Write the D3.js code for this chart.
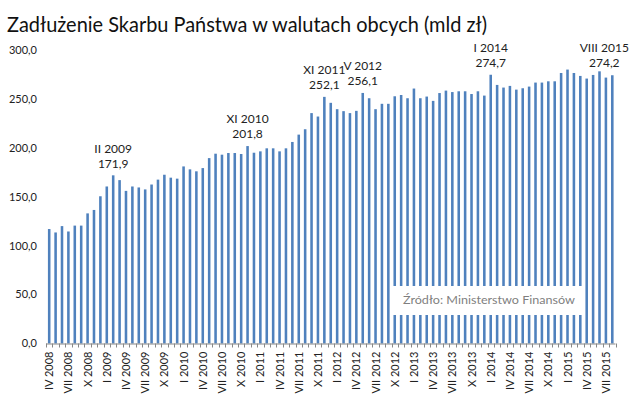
<!DOCTYPE html>
<html><head><meta charset="utf-8">
<script src="https://cdn.jsdelivr.net/npm/d3@7"></script>
<style>body{margin:0;background:#fff}svg{display:block}</style>
</head><body>
<script>
const romans = ["I","II","III","IV","V","VI","VII","VIII","IX","X","XI","XII"];
// months IV 2008 .. VIII 2015
const categories = [];
for (let y = 2008; y <= 2015; y++) for (let m = 0; m < 12; m++) {
  if ((y === 2008 && m < 3) || (y === 2015 && m > 7)) continue;
  categories.push(romans[m] + " " + y);
}
const values = [117,113.5,120,114.5,120.5,120.5,133,136.5,150.5,160.5,171.9,167,
156,160.5,159.5,157.5,162.5,167.5,172.5,169.5,168.5,181,178,176,179.3,189.5,194,
193,194.7,194.7,193.7,201.8,195,196.4,199.5,199.5,196.4,199.5,206,213.5,219,235.5,
232,252.1,246,239.5,237.5,235.5,237.8,256.1,250.7,239.5,245,245,252.7,254,250.7,
260.6,250.7,252.4,248,256,258.5,257,257.8,257.8,255,257.8,253.4,274.7,264.3,261.6,
263.3,259.5,260.9,262.6,266.7,266.7,268,268,276.5,280,276.5,273.5,270.8,274.5,278.2,
271.8,274.2];
const yTicks = [0,50,100,150,200,250,300];
const xTickLabels = ["IV 2008","VII 2008","X 2008","I 2009","IV 2009","VII 2009","X 2009",
"I 2010","IV 2010","VII 2010","X 2010","I 2011","IV 2011","VII 2011","X 2011","I 2012",
"IV 2012","VII 2012","X 2012","I 2013","IV 2013","VII 2013","X 2013","I 2014","IV 2014",
"VII 2014","X 2014","I 2015","IV 2015","VII 2015"];
const annotated = ["II 2009","XI 2010","XI 2011","V 2012","I 2014","VIII 2015"];
const title = "Zadłużenie Skarbu Państwa w walutach obcych (mld zł)";
const source = "Źródło:  Ministerstwo Finansów";

const W = 630, H = 399;
const font = "Lato, 'Open Sans', sans-serif";
const fmt = v => d3.format(".1f")(v).replace(".", ",");
const svg = d3.select("body").append("svg").attr("width", W).attr("height", H);

const x = d3.scaleBand().domain(categories).range([46, 615.5]).paddingInner(0.6).paddingOuter(0.3);
const y = d3.scaleLinear().domain([0, 300]).range([343.5, 50]);

svg.append("text").attr("x", 7).attr("y", 32).attr("font-family", font)
  .attr("font-size", 21).attr("fill", "#111").attr("textLength", 480)
  .attr("lengthAdjust", "spacingAndGlyphs").text(title);

// bars
svg.append("g").selectAll("rect").data(values).join("rect")
  .attr("x", (d, i) => x(categories[i])).attr("width", x.bandwidth())
  .attr("y", d => y(d)).attr("height", d => y(0) - y(d)).attr("fill", "#4f81bd");

// y axis labels
svg.append("g").selectAll("text").data(yTicks).join("text")
  .attr("x", 37).attr("y", d => y(d)).attr("dy", "0.35em").attr("text-anchor", "end")
  .attr("font-family", font).attr("font-size", 11).attr("fill", "#222").text(fmt);

// x axis
const xa = svg.append("g").attr("transform", `translate(0,${y(0)})`)
  .call(d3.axisBottom(x).tickValues(categories).tickSize(0).tickFormat(""));
xa.select(".domain").attr("stroke", "#888").attr("d", `M46,0.5H615.5`);
const step = x.step();
xa.selectAll(".tick").remove();
svg.append("g").selectAll("line").data(categories.concat(["end"])).join("line")
  .attr("x1", (d, i) => Math.round(46 + i * (569.5 / categories.length)) + 0.5)
  .attr("x2", (d, i) => Math.round(46 + i * (569.5 / categories.length)) + 0.5)
  .attr("y1", y(0)).attr("y2", y(0) + 4).attr("stroke", "#888");

svg.append("g").selectAll("text").data(xTickLabels).join("text")
  .attr("transform", d => `translate(${x(d) + x.bandwidth() / 2 + 4},${y(0) + 8}) rotate(-90)`)
  .attr("text-anchor", "end").attr("font-family", font).attr("font-size", 11)
  .attr("fill", "#222").text(d => d);

// annotations
const ann = svg.append("g").attr("font-family", font).attr("font-size", 12)
  .attr("fill", "#222").attr("text-anchor", "middle");
annotated.forEach(c => {
  const i = categories.indexOf(c);
  let cx = x(c) + x.bandwidth() / 2;
  if (c === "VIII 2015") cx -= 8;
  ann.append("text").attr("x", cx).attr("y", y(values[i]) - 27).attr("dy", "0.35em").text(c);
  ann.append("text").attr("x", cx).attr("y", y(values[i]) - 12).attr("dy", "0.35em").text(fmt(values[i]));
});

// source box
svg.append("rect").attr("x", 390).attr("y", 286).attr("width", 194).attr("height", 29).attr("fill", "#fff");
svg.append("text").attr("x", 403).attr("y", 304).attr("font-family", font).attr("font-size", 12)
  .attr("fill", "#7f7f7f").attr("textLength", 172).attr("lengthAdjust", "spacingAndGlyphs").text(source);
</script>
</body></html>
